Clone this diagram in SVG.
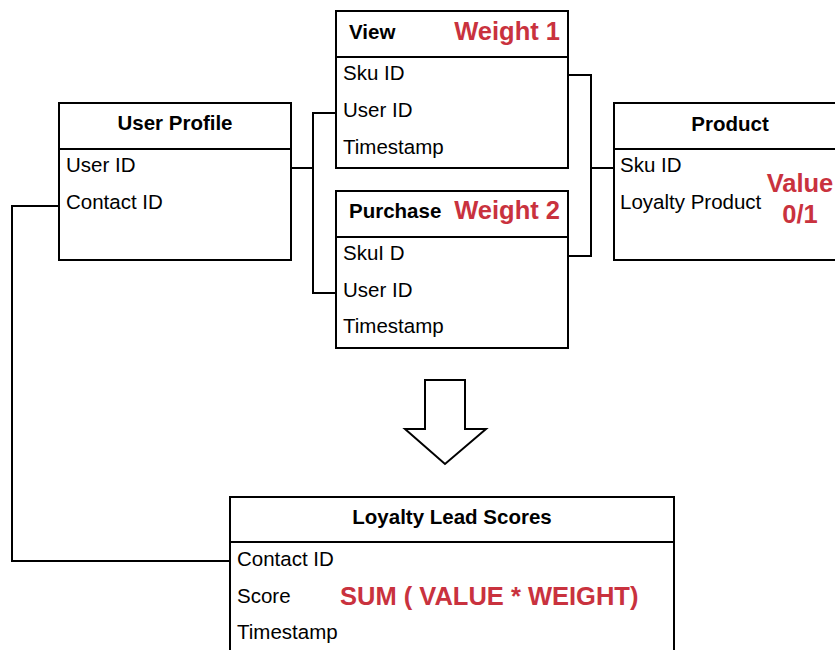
<svg xmlns="http://www.w3.org/2000/svg" width="835" height="650" viewBox="0 0 835 650">
<style>
.box{fill:#fff;stroke:#000;stroke-width:2}
.ln{fill:none;stroke:#000;stroke-width:2}
.hd{font-family:"Liberation Sans",Arial,sans-serif;font-weight:bold;font-size:20.5px;fill:#000}
.f{font-family:"Liberation Sans",Arial,sans-serif;font-size:20.5px;fill:#000}
.r{font-family:"Liberation Sans",Arial,sans-serif;font-weight:bold;font-size:25.5px;fill:#c9323e}
</style>
<rect width="835" height="650" fill="#fff"/>
<g id="connectors">
<polyline class="ln" points="291,168 313,168"/>
<polyline class="ln" points="336,113 313,113 313,293 336,293"/>
<polyline class="ln" points="568,75 591,75 591,256 568,256"/>
<polyline class="ln" points="591,168 614,168"/>
<polyline class="ln" points="59,206 12,206 12,561 230,561"/>
</g>
<g id="user-profile">
<rect class="box" x="59" y="103" width="232" height="157"/>
<line class="ln" x1="59" y1="149" x2="291" y2="149"/>
<text class="hd" x="175" y="130" text-anchor="middle">User Profile</text>
<text class="f" x="66" y="172">User ID</text>
<text class="f" x="66" y="209">Contact ID</text>
</g>
<g id="view">
<rect class="box" x="336" y="11" width="232" height="157"/>
<line class="ln" x1="336" y1="57" x2="568" y2="57"/>
<text class="hd" x="349" y="39">View</text>
<text class="r" x="560" y="40" text-anchor="end">Weight 1</text>
<text class="f" x="343" y="80">Sku ID</text>
<text class="f" x="343" y="117">User ID</text>
<text class="f" x="343" y="154">Timestamp</text>
</g>
<g id="purchase">
<rect class="box" x="336" y="191" width="232" height="157"/>
<line class="ln" x1="336" y1="237" x2="568" y2="237"/>
<text class="hd" x="349" y="218">Purchase</text>
<text class="r" x="560" y="219" text-anchor="end">Weight 2</text>
<text class="f" x="343" y="260">SkuI D</text>
<text class="f" x="343" y="297">User ID</text>
<text class="f" x="343" y="333">Timestamp</text>
</g>
<g id="product">
<rect class="box" x="614" y="103" width="232" height="157"/>
<line class="ln" x1="614" y1="149" x2="846" y2="149"/>
<text class="hd" x="730" y="131" text-anchor="middle">Product</text>
<text class="f" x="620" y="172">Sku ID</text>
<text class="f" x="620" y="209">Loyalty Product</text>
<text class="r" x="800" y="192" text-anchor="middle" font-size="24.5">Value</text>
<text class="r" x="800" y="223" text-anchor="middle" font-size="24.5">0/1</text>
</g>
<g id="arrow">
<polygon points="425,380 465,380 465,429 486,429 445,464 405,429 425,429" fill="#fff" stroke="#000" stroke-width="2"/>
</g>
<g id="loyalty-lead-scores">
<rect class="box" x="230" y="497" width="444" height="165"/>
<line class="ln" x1="230" y1="542" x2="674" y2="542"/>
<text class="hd" x="452" y="524" text-anchor="middle">Loyalty Lead Scores</text>
<text class="f" x="237" y="566">Contact ID</text>
<text class="f" x="237" y="603">Score</text>
<text class="r" x="340" y="605">SUM ( VALUE * WEIGHT)</text>
<text class="f" x="237" y="639">Timestamp</text>
</g>
</svg>
